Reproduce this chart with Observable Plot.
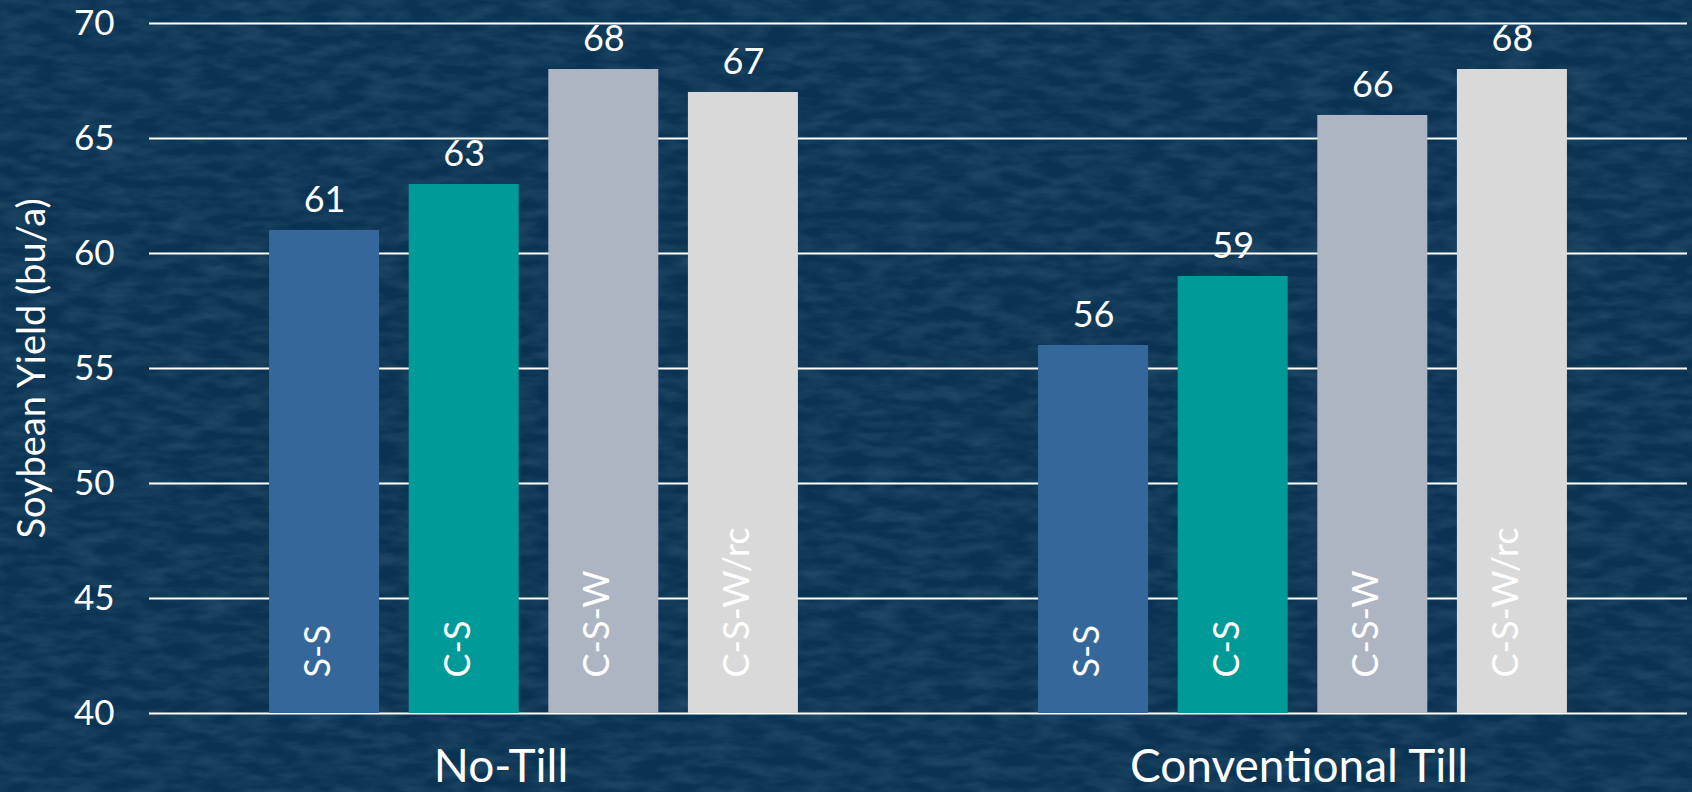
<!DOCTYPE html>
<html>
<head>
<meta charset="utf-8">
<script src="https://cdn.jsdelivr.net/npm/d3@7"></script>
<script src="https://cdn.jsdelivr.net/npm/@observablehq/plot@0.6"></script>
<style>
  html, body { margin: 0; padding: 0; width: 1692px; height: 792px; overflow: hidden; }
  body {
    background-color: #0a3353;
    background-image: url("data:image/svg+xml;utf8,<svg xmlns='http://www.w3.org/2000/svg' width='1692' height='792'><filter id='n' x='0' y='0' width='100%25' height='100%25'><feTurbulence type='fractalNoise' baseFrequency='0.03 0.09' numOctaves='3' seed='7'/><feColorMatrix values='0 0 0 0 0.55  0 0 0 0 0.72  0 0 0 0 0.85  0.22 0 0 0 -0.075'/></filter><rect width='1692' height='792' filter='url(%23n)'/></svg>");
  }
  #chart svg { display: block; }
</style>
</head>
<body>
<div id="chart"></div>
<script>
// ---- data ----
const groups = ["No-Till", "Conventional Till"];
const rotations = ["S-S", "C-S", "C-S-W", "C-S-W/rc"];
const noTillYield = [61, 63, 68, 67];
const conventionalTillYield = [56, 59, 66, 68];
const rotationColors = ["#35679a", "#009a98", "#adb5c3", "#d9d9d9"];
const yTicks = [40, 45, 50, 55, 60, 65, 70];
const yDomain = [40, 70];
const yLabel = "Soybean Yield (bu/a)";

const seriesByGroup = [noTillYield, conventionalTillYield];
const data = groups.flatMap((g, gi) =>
  rotations.map((r, ri) => ({group: g, rotation: r, value: seriesByGroup[gi][ri]}))
);
const groupLabels = groups.map(g => ({group: g}));

const font = "Lato, 'Liberation Sans', Arial, sans-serif";

const chart = Plot.plot({
  width: 1692,
  height: 792,
  marginLeft: 148,
  marginRight: 5,
  marginTop: 23,
  marginBottom: 79,
  style: {background: "transparent", color: "white", fontFamily: font, overflow: "visible"},
  fx: {domain: groups, padding: 0, axis: null, label: null},
  x: {domain: rotations, paddingInner: 0.212, paddingOuter: 0.86, round: false, axis: null},
  y: {domain: yDomain, axis: null},
  color: {domain: rotations, range: rotationColors},
  marks: [
    Plot.ruleY(yTicks, {stroke: "white", strokeWidth: 2}),
    Plot.barY(data, {fx: "group", x: "rotation", y1: yDomain[0], y2: "value", fill: "rotation"}),
    Plot.text(data, {
      fx: "group", x: "rotation", y: "value", text: d => String(d.value),
      dy: -19, lineAnchor: "bottom", fontSize: 36, fill: "white"
    }),
    Plot.text(data, {
      fx: "group", x: "rotation", text: "rotation", frameAnchor: "bottom",
      rotate: -90, textAnchor: "start", lineAnchor: "middle",
      dy: -36, dx: -6, fontSize: 36, fill: "white"
    }),
    Plot.axisY(yTicks, {
      anchor: "left", tickSize: 0, tickPadding: 35, fontSize: 35, fill: "white",
      label: null
    }),
    // y-axis title, drawn once in the left facet
    Plot.text([yLabel], {
      fx: () => groups[0], text: d => d, frameAnchor: "left", rotate: -90,
      textAnchor: "middle", lineAnchor: "middle", dx: -117, fontSize: 38, fill: "white"
    }),
    // group labels under each facet
    Plot.text(groupLabels.slice(0, 1), {
      fx: "group", text: "group", frameAnchor: "bottom", lineAnchor: "top",
      dy: 36, dx: -33, fontSize: 46, fill: "white"
    }),
    Plot.text(groupLabels.slice(1), {
      fx: "group", text: "group", frameAnchor: "bottom", lineAnchor: "top",
      dy: 36, dx: -4, fontSize: 46, fill: "white"
    })
  ]
});

document.getElementById("chart").appendChild(chart);
</script>
</body>
</html>
